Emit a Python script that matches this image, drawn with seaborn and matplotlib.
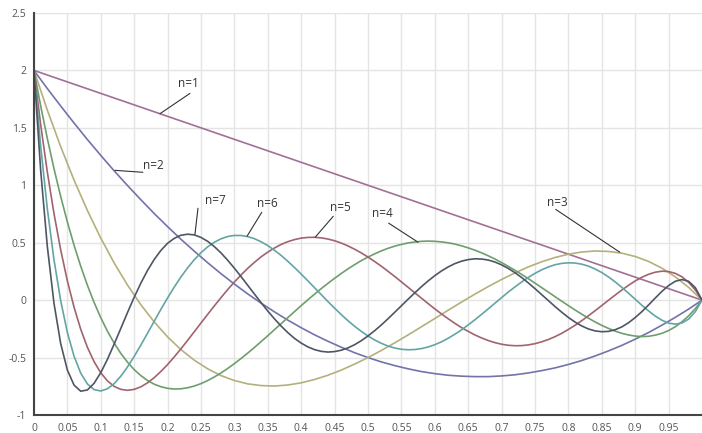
import numpy as np
import pandas as pd
import matplotlib
matplotlib.use("Agg")
import matplotlib.pyplot as plt
import seaborn as sns

x_coarse = np.round(np.linspace(0, 1, 51), 2)
x_fine = np.round(np.linspace(0, 1, 101), 2)

n1_x = [0.0, 1.0]
n1_y = [2.0, 0.0]

n2_y = [2.000, 1.842, 1.690, 1.542, 1.398, 1.260, 1.126, 0.998, 0.874, 0.754,
        0.640, 0.530, 0.426, 0.326, 0.230, 0.140, 0.054, -0.026, -0.102, -0.174,
        -0.240, -0.302, -0.358, -0.410, -0.458, -0.500, -0.538, -0.570, -0.598, -0.622,
        -0.640, -0.654, -0.662, -0.666, -0.666, -0.660, -0.650, -0.634, -0.614, -0.590,
        -0.560, -0.526, -0.486, -0.442, -0.394, -0.340, -0.282, -0.218, -0.150, -0.078,
        0.000]

n3_y = [2.000, 1.654, 1.336, 1.045, 0.780, 0.540, 0.324, 0.131, -0.040, -0.190,
        -0.320, -0.431, -0.523, -0.598, -0.657, -0.700, -0.729, -0.744, -0.748, -0.739,
        -0.720, -0.691, -0.654, -0.609, -0.557, -0.500, -0.438, -0.372, -0.303, -0.232,
        -0.160, -0.088, -0.017, 0.052, 0.118, 0.180, 0.237, 0.289, 0.334, 0.371,
        0.400, 0.419, 0.428, 0.424, 0.409, 0.380, 0.337, 0.278, 0.203, 0.111,
        0.000]

n4_y = [2.000, 1.692, 1.407, 1.144, 0.902, 0.680, 0.478, 0.295, 0.129, -0.020,
        -0.153, -0.271, -0.374, -0.464, -0.540, -0.605, -0.657, -0.700, -0.732, -0.754,
        -0.768, -0.774, -0.772, -0.763, -0.748, -0.727, -0.700, -0.669, -0.634, -0.595,
        -0.553, -0.508, -0.461, -0.412, -0.361, -0.310, -0.257, -0.205, -0.152, -0.100,
        -0.048, 0.003, 0.052, 0.100, 0.146, 0.190, 0.232, 0.272, 0.309, 0.344,
        0.375, 0.403, 0.429, 0.451, 0.470, 0.485, 0.498, 0.506, 0.512, 0.514,
        0.512, 0.507, 0.499, 0.488, 0.473, 0.455, 0.435, 0.412, 0.386, 0.358,
        0.327, 0.294, 0.260, 0.224, 0.187, 0.148, 0.109, 0.070, 0.030, -0.009,
        -0.048, -0.086, -0.122, -0.157, -0.190, -0.220, -0.246, -0.270, -0.289, -0.303,
        -0.313, -0.317, -0.315, -0.305, -0.289, -0.265, -0.232, -0.189, -0.137, -0.074,
        0.000]

n5_y = [2.000, 1.529, 1.115, 0.752, 0.437, 0.167, -0.062, -0.254, -0.411, -0.536,
        -0.633, -0.703, -0.751, -0.777, -0.785, -0.777, -0.755, -0.720, -0.675, -0.621,
        -0.561, -0.494, -0.424, -0.350, -0.275, -0.199, -0.124, -0.050, 0.022, 0.092,
        0.158, 0.219, 0.277, 0.329, 0.377, 0.418, 0.454, 0.485, 0.509, 0.527,
        0.540, 0.546, 0.547, 0.542, 0.532, 0.517, 0.497, 0.472, 0.443, 0.411,
        0.375, 0.336, 0.295, 0.251, 0.206, 0.159, 0.112, 0.064, 0.017, -0.030,
        -0.076, -0.120, -0.162, -0.202, -0.239, -0.272, -0.303, -0.329, -0.352, -0.370,
        -0.384, -0.393, -0.397, -0.396, -0.390, -0.379, -0.363, -0.343, -0.318, -0.289,
        -0.255, -0.219, -0.179, -0.136, -0.092, -0.047, -0.001, 0.044, 0.088, 0.129,
        0.167, 0.199, 0.225, 0.243, 0.252, 0.249, 0.233, 0.203, 0.155, 0.088,
        0.000]

n6_y = [2.000, 1.341, 0.795, 0.350, -0.006, -0.282, -0.489, -0.636, -0.730, -0.779,
        -0.791, -0.772, -0.727, -0.662, -0.582, -0.490, -0.391, -0.288, -0.184, -0.080,
        0.019, 0.114, 0.202, 0.281, 0.352, 0.413, 0.464, 0.504, 0.534, 0.554,
        0.563, 0.563, 0.553, 0.535, 0.508, 0.475, 0.434, 0.389, 0.338, 0.284,
        0.227, 0.168, 0.108, 0.048, -0.012, -0.070, -0.126, -0.179, -0.228, -0.272,
        -0.312, -0.347, -0.376, -0.400, -0.417, -0.428, -0.432, -0.430, -0.422, -0.408,
        -0.388, -0.363, -0.332, -0.297, -0.259, -0.216, -0.171, -0.124, -0.076, -0.027,
        0.022, 0.070, 0.115, 0.158, 0.198, 0.233, 0.264, 0.289, 0.308, 0.320,
        0.325, 0.323, 0.313, 0.296, 0.271, 0.240, 0.202, 0.159, 0.111, 0.060,
        0.008, -0.045, -0.094, -0.139, -0.175, -0.200, -0.209, -0.199, -0.165, -0.100,
        0.000]

n7_y = [2.000, 1.132, 0.466, -0.029, -0.379, -0.609, -0.740, -0.793, -0.782, -0.724,
        -0.631, -0.515, -0.383, -0.246, -0.108, 0.025, 0.148, 0.259, 0.354, 0.433,
        0.495, 0.538, 0.565, 0.574, 0.568, 0.546, 0.512, 0.466, 0.411, 0.347,
        0.278, 0.205, 0.129, 0.053, -0.022, -0.095, -0.163, -0.226, -0.283, -0.333,
        -0.374, -0.407, -0.431, -0.446, -0.452, -0.448, -0.436, -0.416, -0.388, -0.353,
        -0.312, -0.266, -0.216, -0.162, -0.106, -0.049, 0.008, 0.063, 0.117, 0.167,
        0.213, 0.254, 0.289, 0.318, 0.339, 0.353, 0.360, 0.358, 0.349, 0.332,
        0.307, 0.276, 0.239, 0.197, 0.150, 0.100, 0.048, -0.004, -0.056, -0.105,
        -0.151, -0.191, -0.225, -0.251, -0.268, -0.275, -0.272, -0.258, -0.233, -0.197,
        -0.152, -0.100, -0.042, 0.018, 0.076, 0.127, 0.164, 0.179, 0.164, 0.109,
        0.000]

curve_names = ["n=1", "n=2", "n=3", "n=4", "n=5", "n=6", "n=7"]
curve_colors = ["#a07096", "#7373aa", "#b4b07c", "#6e9e6e", "#a0646e", "#64a4a4", "#4e5664"]

x_ticks = [0, 0.05, 0.1, 0.15, 0.2, 0.25, 0.3, 0.35, 0.4, 0.45,
           0.5, 0.55, 0.6, 0.65, 0.7, 0.75, 0.8, 0.85, 0.9, 0.95]
x_tick_labels = ["0", "0.05", "0.1", "0.15", "0.2", "0.25", "0.3", "0.35", "0.4", "0.45",
                 "0.5", "0.55", "0.6", "0.65", "0.7", "0.75", "0.8", "0.85", "0.9", "0.95"]
y_ticks = [-1, -0.5, 0, 0.5, 1, 1.5, 2, 2.5]
y_tick_labels = ["-1", "-0.5", "0", "0.5", "1", "1.5", "2", "2.5"]

# label text position, then pointer line start / end
notes = [("n=1", 0.2305, 1.887, 0.2335, 1.80, 0.1886, 1.623),
         ("n=2", 0.178, 1.174, 0.163, 1.113, 0.1213, 1.130),
         ("n=7", 0.271, 0.870, 0.2455, 0.80, 0.241, 0.574),
         ("n=6", 0.350, 0.843, 0.341, 0.765, 0.319, 0.557),
         ("n=5", 0.458, 0.809, 0.448, 0.73, 0.421, 0.548),
         ("n=4", 0.522, 0.757, 0.531, 0.67, 0.575, 0.504),
         ("n=3", 0.783, 0.852, 0.781, 0.79, 0.877, 0.417)]

# long-form table for seaborn
series = [(n1_x, n1_y), (x_coarse, n2_y), (x_coarse, n3_y),
          (x_fine, n4_y), (x_fine, n5_y), (x_fine, n6_y), (x_fine, n7_y)]
frames = [pd.DataFrame({"x": xs, "y": ys, "n": name})
          for name, (xs, ys) in zip(curve_names, series)]
df = pd.concat(frames, ignore_index=True)

sns.set_style("white")
plt.rcParams["font.family"] = ["Open Sans", "DejaVu Sans"]
plt.rcParams["axes.unicode_minus"] = False

fig = plt.figure(figsize=(7.02, 4.33), dpi=100)
ax = fig.add_axes([0.0484, 0.0416, 0.9516, 0.9284])
sns.lineplot(data=df, x="x", y="y", hue="n", hue_order=curve_names,
             palette=dict(zip(curve_names, curve_colors)), ax=ax, legend=False,
             estimator=None, sort=False, linewidth=1.2)

ax.set_xlim(0, 1)
ax.set_ylim(-1, 2.5)
ax.set_xticks(x_ticks)
ax.set_xticklabels(x_tick_labels)
ax.set_yticks(y_ticks)
ax.set_yticklabels(y_tick_labels)
ax.grid(True, color="#e4e4e4", linewidth=1)
ax.set_axisbelow(True)
for s in ["top", "right"]:
    ax.spines[s].set_visible(False)
for s in ["left", "bottom"]:
    ax.spines[s].set_color("#444444")
    ax.spines[s].set_linewidth(1.5)
ax.tick_params(axis="both", direction="out", length=4, width=1.2, color="#444444",
               labelsize=7.5, labelcolor="#555555", pad=1.5)
ax.set_xlabel("")
ax.set_ylabel("")

for lab, tx, ty, x0, y0, x1, y1 in notes:
    ax.text(tx, ty, lab, ha="center", va="center", fontsize=8.5, color="#333333")
    ax.plot([x0, x1], [y0, y1], color="#333333", linewidth=0.8)

fig.savefig("out.png", dpi=100)
